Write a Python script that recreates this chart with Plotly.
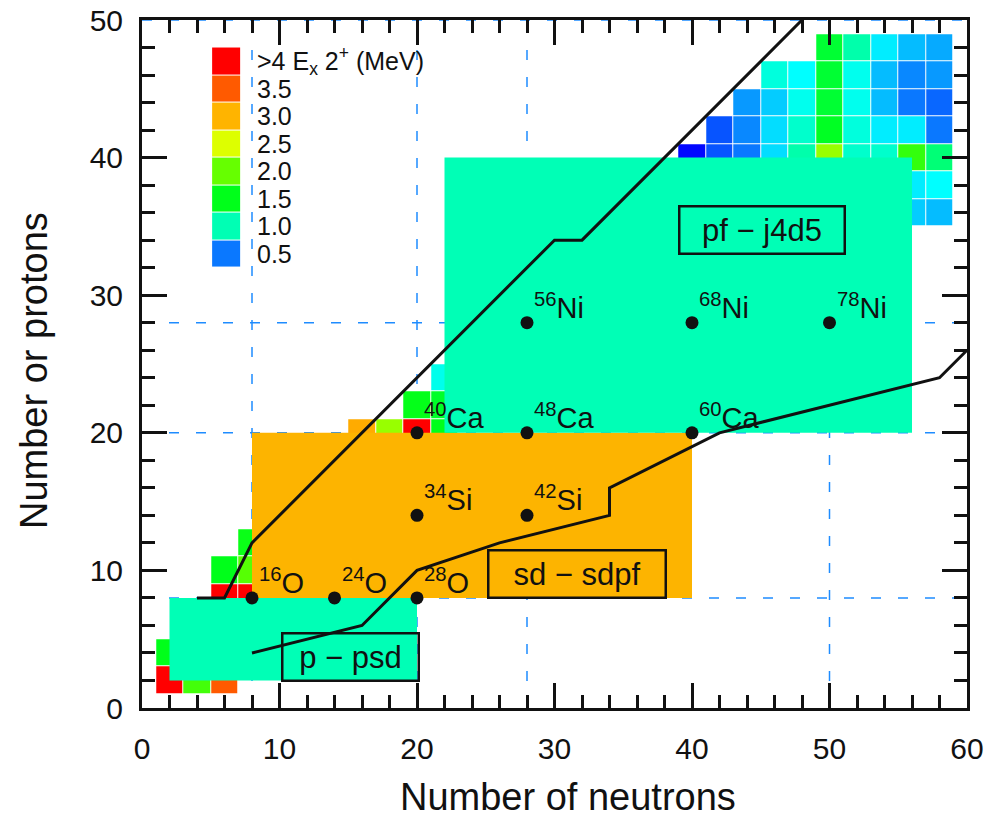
import numpy as np
import plotly.graph_objects as go

FONT = "Liberation Sans, Arial, Helvetica, sans-serif"

# ---------------- data ----------------
# even-even nuclides: neutron number, proton number, E(2+) in MeV (read from colours)
cell_n = [2, 4, 6, 2, 6, 8, 6, 8, 8,
          16, 18, 20, 22, 20, 22, 22,
          50, 52, 54, 56, 58,
          46, 48, 50, 52, 54, 56, 58,
          44, 46, 48, 50, 52, 54, 56, 58,
          42, 44, 46, 48, 50, 52, 54, 56, 58,
          40, 42, 44, 46, 48, 50, 52, 54, 56, 58,
          56, 58,
          56, 58]
cell_z = [2, 2, 2, 4, 8, 8, 10, 10, 12,
          20, 20, 20, 20, 22, 22, 24,
          48, 48, 48, 48, 48,
          46, 46, 46, 46, 46, 46, 46,
          44, 44, 44, 44, 44, 44, 44, 44,
          42, 42, 42, 42, 42, 42, 42, 42, 42,
          40, 40, 40, 40, 40, 40, 40, 40, 40, 40,
          38, 38,
          36, 36]
cell_e = [4.5, 1.83, 3.5, 1.5, 4.5, 4.5, 1.5, 1.92, 1.55,
          3.05, 2.21, 4.2, 1.5, 1.52, 1.45, 0.85,
          1.42, 1.03, 0.76, 0.65, 0.61,
          0.89, 0.80, 1.42, 0.845, 0.65, 0.536, 0.573,
          0.573, 0.687, 0.845, 1.42, 0.845, 0.65, 0.50, 0.43,
          0.35, 0.536, 0.724, 0.936, 1.47, 0.89, 0.76, 0.76, 0.50,
          0.03, 0.35, 0.50, 0.724, 1.03, 2.21, 0.936, 0.936, 1.75, 1.2,
          0.76, 0.80,
          0.687, 0.65]

# colour legend
legend_values = [4.25, 3.5, 3.0, 2.5, 2.0, 1.5, 1.0, 0.5]
legend_labels = ["&gt;4 E<sub>x</sub> 2<sup>+</sup> (MeV)", "3.5", "3.0", "2.5",
                 "2.0", "1.5", "1.0", "0.5"]

# model spaces (N range, Z range)
space_names = ["p − psd", "sd − sdpf", "pf − j4d5"]
space_n_lo = [2, 8, 22]
space_n_hi = [20, 40, 56]
space_z_lo = [2, 8, 20]
space_z_hi = [8, 20, 40]
space_colors = ["#00FFB6", "#FDB400", "#00FFB6"]

# boundary lines
line1_n = [4, 6, 8, 30, 32, 48]
line1_z = [8, 8, 12, 34, 34, 50]
line2_n = [8, 16, 20, 26, 34, 34, 42, 58, 60]
line2_z = [4, 6, 10, 12, 14, 16, 20, 24, 26]

# doubly magic / key nuclei
nuc_n = [8, 14, 20, 20, 28, 20, 28, 40, 28, 40, 50]
nuc_z = [8, 8, 8, 14, 14, 20, 20, 20, 28, 28, 28]
nuc_mass = [16, 24, 28, 34, 42, 40, 48, 60, 56, 68, 78]
nuc_sym = ["O", "O", "O", "Si", "Si", "Ca", "Ca", "Ca", "Ni", "Ni", "Ni"]

magic = [8, 20, 28, 50]

# ---------------- figure ----------------
colorscale = [
    [0.0, "#0000FF"],
    [0.5 / 4.5, "#0A78FF"],
    [0.8 / 4.5, "#00FFFF"],
    [1.0 / 4.5, "#00FFB4"],
    [1.5 / 4.5, "#00FF1A"],
    [2.0 / 4.5, "#66FF00"],
    [2.5 / 4.5, "#DDFF00"],
    [3.0 / 4.5, "#FFB400"],
    [3.5 / 4.5, "#FF5A00"],
    [4.0 / 4.5, "#FF0000"],
    [1.0, "#FF0000"],
]

grid_n = np.arange(0, 62, 2)
grid_z = np.arange(0, 52, 2)
zmat = np.full((len(grid_z), len(grid_n)), np.nan)
for n, z, e in zip(cell_n, cell_z, cell_e):
    zmat[z // 2, n // 2] = e

fig = go.Figure()

fig.add_trace(go.Heatmap(
    x=grid_n, y=grid_z, z=zmat, colorscale=colorscale, zmin=0, zmax=4.5,
    showscale=False, xgap=1, ygap=1, hoverinfo="skip"))

for i in range(len(space_names)):
    n0, n1, z0, z1 = space_n_lo[i], space_n_hi[i], space_z_lo[i], space_z_hi[i]
    fig.add_trace(go.Scatter(
        x=[n0, n1, n1, n0, n0], y=[z0, z0, z1, z1, z0], mode="lines",
        fill="toself", fillcolor=space_colors[i], line=dict(width=0),
        hoverinfo="skip"))

# legend swatches
fig.add_trace(go.Heatmap(
    x0=6.1, dx=2, y0=47, dy=-2, z=[[v] for v in legend_values],
    colorscale=colorscale, zmin=0, zmax=4.5, showscale=False, ygap=1,
    hoverinfo="skip"))

for xs, ys in [(line1_n, line1_z), (line2_n, line2_z)]:
    fig.add_trace(go.Scatter(x=xs, y=ys, mode="lines",
                             line=dict(color="#111111", width=3), hoverinfo="skip"))

fig.add_trace(go.Scatter(x=nuc_n, y=nuc_z, mode="markers",
                         marker=dict(color="#111111", size=13), hoverinfo="skip"))

shapes = []
for m in magic:
    shapes.append(dict(type="line", x0=m, x1=m, y0=0, y1=50, xref="x", yref="y",
                       layer="below", line=dict(color="#1E8CFF", width=1.5, dash="10px,17px")))
    shapes.append(dict(type="line", x0=0, x1=60, y0=m, y1=m, xref="x", yref="y",
                       layer="below", line=dict(color="#1E8CFF", width=1.5, dash="10px,17px")))

ann = []
for n, z, a, s in zip(nuc_n, nuc_z, nuc_mass, nuc_sym):
    ann.append(dict(x=n, y=z, xref="x", yref="y", text=f"<sup>{a}</sup>{s}",
                    showarrow=False, xanchor="left", yanchor="bottom",
                    xshift=5, yshift=-3,
                    font=dict(family=FONT, size=29, color="#111111")))

for i, lab in enumerate(legend_labels):
    ann.append(dict(x=8.25, y=47 - 2 * i, xref="x", yref="y",
                    text=lab, showarrow=False, xanchor="left", yanchor="middle",
                    font=dict(family=FONT, size=25, color="#111111")))

box_pos = [(15.13, 3.7, 134, 45), (31.6, 9.73, 175, 45), (45.1, 34.75, 163, 45)]
for name, (bx, by, bw, bh) in zip(space_names, box_pos):
    ann.append(dict(x=bx, y=by, xref="x", yref="y", text=name, showarrow=False,
                    xanchor="center", yanchor="middle", width=bw, height=bh,
                    borderwidth=2.5, bordercolor="#111111", borderpad=0,
                    font=dict(family=FONT, size=31, color="#111111")))

ann.append(dict(x=568, y=797, xref="paper", yref="paper", text="Number of neutrons",
                showarrow=False, xanchor="center", yanchor="middle",
                font=dict(family=FONT, size=38, color="#111111")))
ann.append(dict(x=34, y=370, xref="paper", yref="paper", text="Number or protons",
                showarrow=False, xanchor="center", yanchor="middle", textangle=-90,
                font=dict(family=FONT, size=38, color="#111111")))

# convert pixel positions for titles to paper coordinates
W, H = 987, 817
L, R, T, B = 142, 20, 20, 109
pw, ph = W - L - R, H - T - B
for a in ann[-2:]:
    a["x"] = (a["x"] - L) / pw
    a["y"] = (H - B - a["y"]) / ph

axis_common = dict(
    showgrid=False, zeroline=False, showline=True, linecolor="#111111", linewidth=3,
    mirror="ticks", ticks="inside", ticklen=25, tickwidth=3, tickcolor="#111111",
    dtick=10, tick0=0, automargin=False,
    tickfont=dict(family=FONT, size=30, color="#111111"),
    minor=dict(dtick=2, ticks="inside", ticklen=13, tickwidth=3, tickcolor="#111111",
               showgrid=False),
)
fig.update_xaxes(range=[0, 60], ticklabelstandoff=12, **axis_common)
fig.update_yaxes(range=[0, 50], ticklabelstandoff=10, **axis_common)

fig.update_layout(
    width=W, height=H, margin=dict(l=L, r=R, t=T, b=B, pad=0, autoexpand=False),
    plot_bgcolor="white", paper_bgcolor="white", showlegend=False,
    shapes=shapes, annotations=ann, font=dict(family=FONT),
)

fig.write_html("out.html")
